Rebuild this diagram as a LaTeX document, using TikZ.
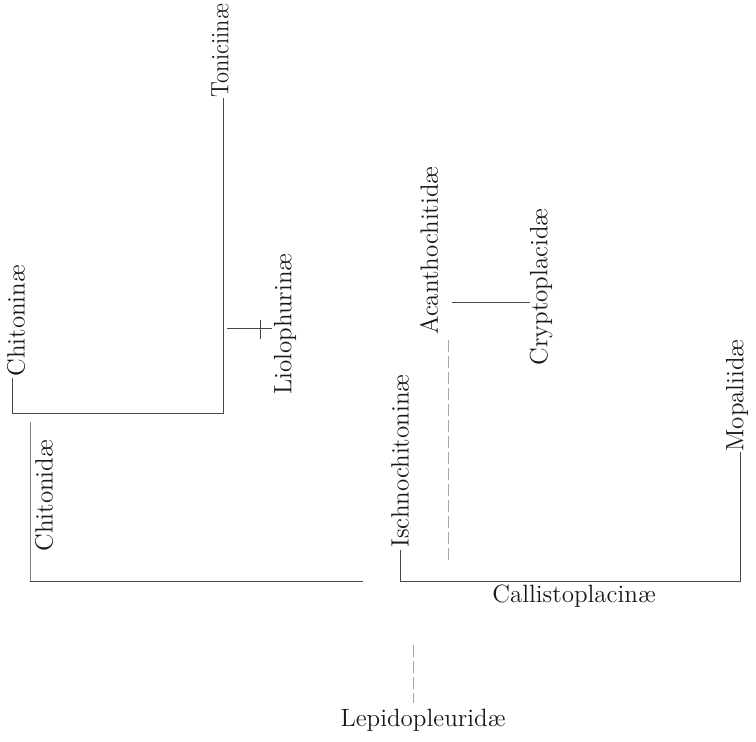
\documentclass[tikz,border=0pt]{standalone}
\begin{document}
\begin{tikzpicture}[x=0.5pt,y=-0.5pt,
  lbl/.style={inner sep=0pt,font=\fontsize{12.5}{15}\selectfont,text=black!90},
  vlbl/.style={lbl,rotate=90,anchor=west},
  branch/.style={line width=0.5pt,draw=black!72},
  faint/.style={line width=0.45pt,draw=black!35,dash pattern=on 6pt off 2pt}]
\useasboundingbox[fill=white] (0,0) rectangle (756,742);
% labels
\node[vlbl] (tonic) at (220,98) {\scalebox{0.9}[1]{Toniciin\ae}};
\node[vlbl] (chitonin) at (16,377) {Chitonin\ae};
\node[vlbl] (liolo) at (285,395) {Liolophurin\ae};
\node[vlbl] (chitonid) at (44,552) {Chitonid\ae};
\node[vlbl] (acantho) at (429,335) {Acanthochitid\ae};
\node[vlbl] (crypto) at (541,366) {Cryptoplacid\ae};
\node[vlbl] (ischno) at (400,548) {Ischnochitonin\ae};
\node[vlbl] (mopa) at (737,452) {Mopaliid\ae};
\node[lbl] (callisto) at (574,596) {Callistoplacin\ae};
\node[lbl] (lepido) at (423,720) {Lepidopleurid\ae};
% junction points
\coordinate (c1) at (12,378);
\coordinate (c2) at (12,414);
\coordinate (c3) at (223,414);
\coordinate (c4) at (223,98);
\coordinate (t1) at (227,329);
\coordinate (t2) at (272,329);
\coordinate (t3) at (260,320);
\coordinate (t4) at (260,339);
\coordinate (d1) at (30,422);
\coordinate (d2) at (30,582);
\coordinate (d3) at (363,582);
\coordinate (i1) at (400,550);
\coordinate (i2) at (400,582);
\coordinate (i3) at (740,582);
\coordinate (i4) at (740,452);
\coordinate (a1) at (452,303);
\coordinate (a2) at (530,303);
\coordinate (f1) at (448,340);
\coordinate (f2) at (448,560);
\coordinate (l1) at (413,645);
\coordinate (l2) at (413,703);
% connectors
\draw[branch] (c1) -- (c2) -- (c3) -- (c4);
\draw[branch] (t1) -- (t2);
\draw[branch,line width=0.4pt] (t3) -- (t4);
\draw[branch,draw=black!50] (d1) -- (d2);
\draw[branch] (d2) -- (d3);
\draw[branch] (i1) -- (i2) -- (i3) -- (i4);
\draw[branch] (a1) -- (a2);
\draw[faint] (f1) -- (f2);
\draw[faint] (l1) -- (l2);
\end{tikzpicture}
\end{document}
